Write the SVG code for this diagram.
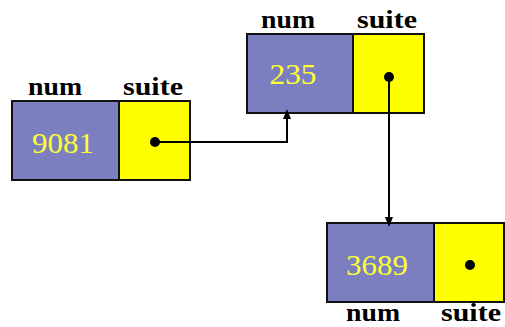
<svg xmlns="http://www.w3.org/2000/svg" width="505" height="327" viewBox="0 0 505 327">
<defs>
<marker id="ah" markerWidth="10" markerHeight="10" refX="5" refY="5" orient="auto" markerUnits="userSpaceOnUse">
<path d="M0,1 L10,5 L0,9 Z" fill="#000"/>
</marker>
<style>
.num{fill:#7b7fbf;stroke:#111;stroke-width:2}
.suite{fill:#ffff00;stroke:#111;stroke-width:2}
.val{font-family:"Liberation Serif","DejaVu Serif",serif;font-size:30px;fill:#ffff33;text-anchor:middle}
.lbl{font-family:"Liberation Serif","DejaVu Serif",serif;font-size:26px;font-weight:bold;fill:#000;text-anchor:middle}
.dot{fill:#000}
.conn{fill:none;stroke:#000;stroke-width:2}
</style>
</defs>
<g id="node1">
<rect class="num" x="12" y="101" width="107" height="79"/>
<rect class="suite" x="119" y="101" width="71" height="79"/>
<text class="val" x="63" y="153" textLength="62" lengthAdjust="spacingAndGlyphs">9081</text>
<text class="lbl" x="55" y="95" textLength="54" lengthAdjust="spacingAndGlyphs">num</text>
<text class="lbl" x="153" y="95" textLength="60" lengthAdjust="spacingAndGlyphs">suite</text>
<circle class="dot" cx="155" cy="142" r="5"/>
</g>
<g id="node2">
<rect class="num" x="247" y="34" width="106" height="79"/>
<rect class="suite" x="353" y="34" width="71" height="79"/>
<text class="val" x="293" y="84" textLength="47" lengthAdjust="spacingAndGlyphs">235</text>
<text class="lbl" x="288" y="28" textLength="54" lengthAdjust="spacingAndGlyphs">num</text>
<text class="lbl" x="387" y="28" textLength="60" lengthAdjust="spacingAndGlyphs">suite</text>
<circle class="dot" cx="389" cy="77" r="5"/>
</g>
<g id="node3">
<rect class="num" x="327" y="223" width="107" height="79"/>
<rect class="suite" x="434" y="223" width="70" height="79"/>
<text class="val" x="377" y="275" textLength="62" lengthAdjust="spacingAndGlyphs">3689</text>
<text class="lbl" x="373" y="321" textLength="54" lengthAdjust="spacingAndGlyphs">num</text>
<text class="lbl" x="471" y="321" textLength="60" lengthAdjust="spacingAndGlyphs">suite</text>
<circle class="dot" cx="470" cy="265" r="5"/>
</g>
<g id="connectors">
<path class="conn" d="M155,142 H287 V114" marker-end="url(#ah)"/>
<path class="conn" d="M389,77 V222" marker-end="url(#ah)"/>
</g>
</svg>
